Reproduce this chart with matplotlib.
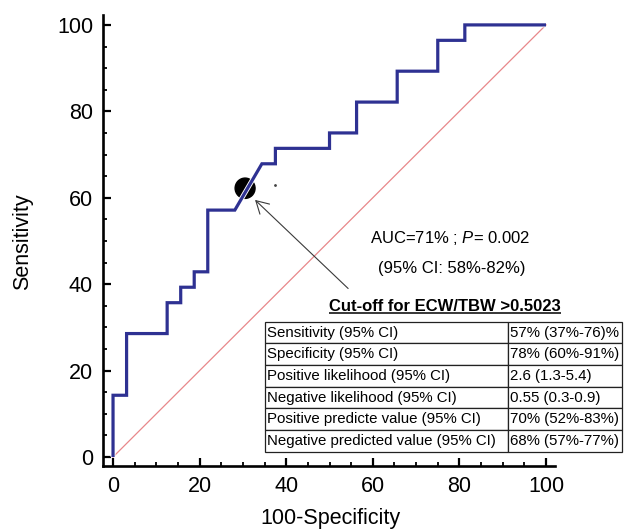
import matplotlib
matplotlib.use("Agg")
import matplotlib.pyplot as plt
import matplotlib.patheffects as pe
from matplotlib.patches import Ellipse, FancyArrowPatch
from matplotlib.ticker import MultipleLocator

plt.rcParams["font.family"] = ["Liberation Sans", "DejaVu Sans"]
plt.rcParams["mathtext.fontset"] = "custom"
plt.rcParams["mathtext.rm"] = "Liberation Sans"
plt.rcParams["mathtext.it"] = "Liberation Sans:italic"

# ROC curve (100-Specificity vs Sensitivity, %)
fpr = [0, 0, 3.13, 3.13, 12.5, 12.5, 15.63, 15.63, 18.75, 18.75, 21.88, 21.88,
       28.13, 34.38, 37.5, 37.5, 50, 50, 56.25, 56.25, 65.63, 65.63, 75, 75,
       81.25, 81.25, 100]
tpr = [0, 14.29, 14.29, 28.57, 28.57, 35.71, 35.71, 39.29, 39.29, 42.86, 42.86,
       57.14, 57.14, 67.86, 67.86, 71.43, 71.43, 75, 75, 82.14, 82.14, 89.29,
       89.29, 96.43, 96.43, 100, 100]

chance_x = [0, 100]
chance_y = [0, 100]

# highlighted cut-off marker and its pointer
cutoff_point = (30.5, 62.2)
speck_point = (37.4, 63.0)
arrow_tail = (54.3, 39.0)
arrow_head = (32.8, 59.5)

auc_line1 = r"AUC=71% ; $\mathit{P}$= 0.002"
auc_line2 = "(95% CI: 58%-82%)"
table_title = "Cut-off for ECW/TBW >0.5023"
row_labels = [
    "Sensitivity (95% CI)",
    "Specificity (95% CI)",
    "Positive likelihood (95% CI)",
    "Negative likelihood (95% CI)",
    "Positive predicte value (95% CI)",
    "Negative predicted value (95% CI)",
]
row_values = [
    "57% (37%-76)%",
    "78% (60%-91%)",
    "2.6 (1.3-5.4)",
    "0.55 (0.3-0.9)",
    "70% (52%-83%)",
    "68% (57%-77%)",
]
major_ticks = [0, 20, 40, 60, 80, 100]

fig = plt.figure(figsize=(6.26, 5.29), dpi=100)
ax = fig.add_axes([0.1641, 0.1191, 0.7225, 0.8526])
ax.set_xlim(-2.38, 102.08)
ax.set_ylim(-2.08, 102.3)

ax.plot(chance_x, chance_y, color="#e8878a", lw=0.9, zorder=2)
ax.add_patch(Ellipse(cutoff_point, width=4.6, height=4.7, color="black", zorder=3))
ax.plot(fpr, tpr, color="#2e3192", lw=2.3, zorder=4,
        solid_joinstyle="miter", solid_capstyle="butt",
        path_effects=[pe.Stroke(linewidth=3.6, foreground="white"), pe.Normal()])
ax.plot([speck_point[0]], [speck_point[1]], marker="o", ms=1.0, color="#444444",
        zorder=3)

arrow = FancyArrowPatch(posA=arrow_tail, posB=arrow_head,
                        arrowstyle="->,head_length=8.8,head_width=5",
                        mutation_scale=1, shrinkA=0, shrinkB=0,
                        color="#3a3a3a", lw=0.8, zorder=5)
ax.add_patch(arrow)

# axes styling
for side in ("top", "right"):
    ax.spines[side].set_visible(False)
for side in ("left", "bottom"):
    ax.spines[side].set_linewidth(1.9)
ax.set_xticks(major_ticks)
ax.set_yticks(major_ticks)
ax.xaxis.set_minor_locator(MultipleLocator(5))
ax.yaxis.set_minor_locator(MultipleLocator(5))
ax.tick_params(which="major", direction="in", length=6, width=1.6, labelsize=15.5)
ax.tick_params(which="minor", direction="in", length=3, width=1.3)
ax.tick_params(axis="y", which="major", pad=7)
ax.tick_params(axis="x", which="major", pad=7.5)

ax.set_xlabel("100-Specificity", fontsize=15.5, va="center")
ax.xaxis.set_label_coords(0.503, -0.1175)
ax.set_ylabel("Sensitivity", fontsize=15.5, va="center")
ax.yaxis.set_label_coords(-0.178, 0.497)

# AUC annotation
ax.text(77.8, 50.6, auc_line1, fontsize=12, ha="center", va="center")
ax.text(78.3, 43.7, auc_line2, fontsize=12, ha="center", va="center")

# cut-off title (underlined)
title = ax.text(76.6, 33.8, table_title, fontsize=12, fontweight="bold",
                ha="center", va="baseline", clip_on=False)

# summary table
tbl = ax.table(cellText=[list(r) for r in zip(row_labels, row_values)],
               colWidths=[243, 114], cellLoc="left",
               bbox=[0.3588, 0.0317, 0.7893, 0.2883])
tbl.auto_set_font_size(False)
tbl.set_fontsize(10.8)
tbl.set_clip_on(False)
for (r, c), cell in tbl.get_celld().items():
    cell.set_linewidth(0.9)
    cell.set_edgecolor("#222222")
    cell.set_clip_on(False)
    cell.get_text().set_clip_on(False)
    cell.PAD = 0.008 if c == 0 else 0.018
tbl.set_zorder(6)

fig.canvas.draw()
renderer = fig.canvas.get_renderer()
bb = title.get_window_extent(renderer)
inv = ax.transData.inverted()
(ux0, uy), (ux1, _) = inv.transform([(bb.x0, 0), (bb.x1, 0)])
ax.plot([ux0, ux1], [33.3, 33.3], color="black", lw=1.1, clip_on=False,
        solid_capstyle="butt")

fig.savefig("out.png", dpi=100)
